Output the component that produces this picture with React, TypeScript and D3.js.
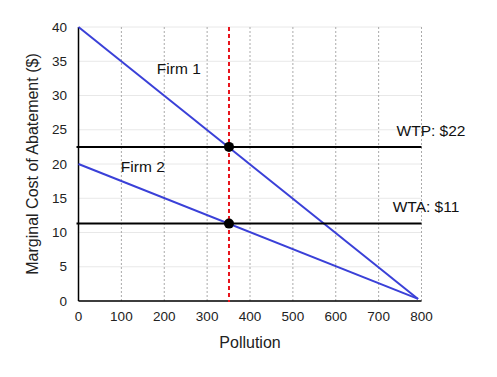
import React from "react";
import * as d3 from "d3";

const xTicks = [0, 100, 200, 300, 400, 500, 600, 700, 800];
const yTicks = [0, 5, 10, 15, 20, 25, 30, 35, 40];
const firm1: [number, number][] = [[0, 40], [792, 0.3]];
const firm2: [number, number][] = [[0, 20], [792, 0.3]];
const wtp = 22.5;
const wta = 11.3;
const quantity = 351;
const points: [number, number][] = [[quantity, wtp], [quantity, wta]];
const labels = [
  { text: "Firm 1", x: 234, y: 34 },
  { text: "Firm 2", x: 150, y: 19.6 },
];

export default function App() {
  const W = 497, H = 377;
  const x = d3.scaleLinear().domain([0, 800]).range([78.5, 421.5]);
  const y = d3.scaleLinear().domain([0, 40]).range([301, 27]);
  const line = d3.line<[number, number]>().x(d => x(d[0])).y(d => y(d[1]));
  const font = "Liberation Sans, Arial, Helvetica, sans-serif";
  return (
    <svg width={W} height={H} style={{ position: "absolute", left: 0, top: 0 }} fontFamily={font}>
      <rect width={W} height={H} fill="#fff" />
      {yTicks.map(t => (
        <line key={"gy" + t} x1={x(0)} x2={x(800)} y1={y(t)} y2={y(t)} stroke="#e8e8e8" strokeWidth={1} />
      ))}
      {xTicks.filter(t => t > 0).map(t => (
        <line key={"gx" + t} x1={x(t)} x2={x(t)} y1={y(40)} y2={y(0)} stroke="#aaa" strokeWidth={1} strokeDasharray="2,2" />
      ))}
      <line x1={x(0)} x2={x(0)} y1={y(40)} y2={y(0)} stroke="#000" strokeWidth={1.5} />
      <line x1={x(0)} x2={x(800)} y1={y(0)} y2={y(0)} stroke="#000" strokeWidth={1.5} />
      {yTicks.map(t => (
        <text key={"ty" + t} x={67} y={y(t)} dy="0.35em" textAnchor="end" fontSize={13.5} fill="#222">{t}</text>
      ))}
      {xTicks.map(t => (
        <text key={"tx" + t} x={x(t)} y={321} textAnchor="middle" fontSize={13.5} fill="#222">{t}</text>
      ))}
      <text x={250} y={348} textAnchor="middle" fontSize={16} fill="#222">Pollution</text>
      <text transform={`translate(38,164) rotate(-90)`} textAnchor="middle" fontSize={16} fill="#222">Marginal Cost of Abatement ($)</text>
      <path d={line(firm1) || ""} stroke="#3a40d8" strokeWidth={2} fill="none" />
      <path d={line(firm2) || ""} stroke="#3a40d8" strokeWidth={2} fill="none" />
      <line x1={x(0) - 2} x2={x(800)} y1={y(wtp)} y2={y(wtp)} stroke="#000" strokeWidth={2} />
      <line x1={x(0) - 2} x2={x(800)} y1={y(wta)} y2={y(wta)} stroke="#000" strokeWidth={2} />
      <line x1={x(quantity)} x2={x(quantity)} y1={y(40)} y2={y(0) + 1} stroke="#e8141c" strokeWidth={2} strokeDasharray="4,3" />
      {points.map((p, i) => (
        <circle key={i} cx={x(p[0])} cy={y(p[1])} r={5} fill="#000" />
      ))}
      {labels.map(l => (
        <text key={l.text} x={x(l.x)} y={y(l.y)} dy="0.35em" textAnchor="middle" fontSize={15.5} fill="#111">{l.text}</text>
      ))}
      <text x={431} y={136} textAnchor="middle" fontSize={15.5} fill="#111">{`WTP: $${Math.round(wtp - 0.5)}`}</text>
      <text x={426} y={212} textAnchor="middle" fontSize={15.5} fill="#111">{`WTA: $${Math.round(wta)}`}</text>
    </svg>
  );
}
